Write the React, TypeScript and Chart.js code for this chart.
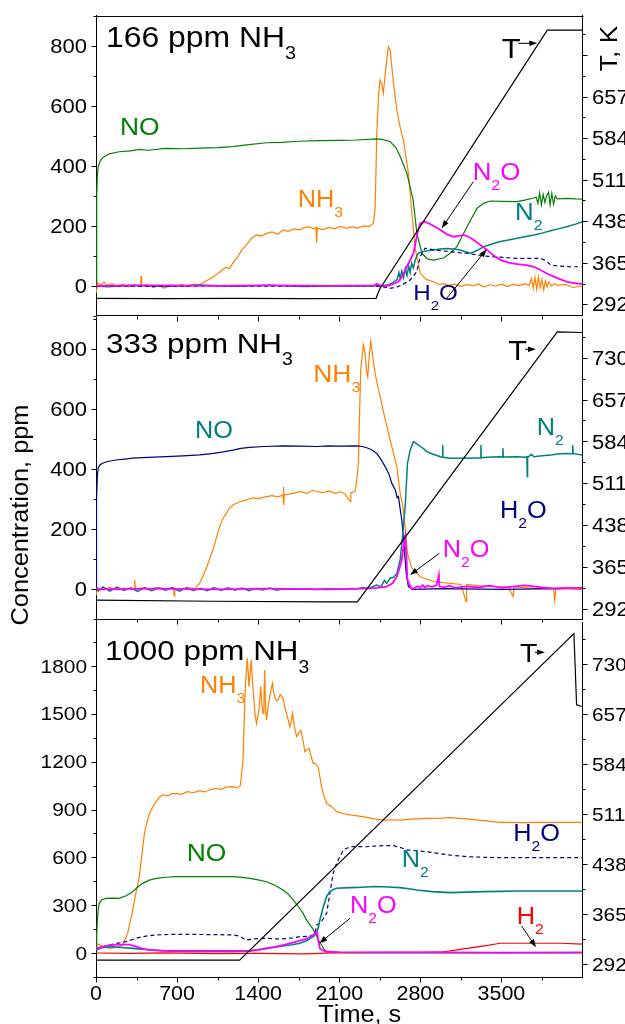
import { useEffect, useRef } from 'react';
import { Chart, registerables } from 'chart.js';
Chart.register(...registerables);

const W = 625;
const H = 1024;
const FONT = '"Liberation Sans", Arial, sans-serif';
const SX = 1.1;

const GREEN = '#008000';
const ORANGE = '#FF8000';
const MAGENTA = '#FF00FF';
const TEAL = '#008080';
const NAVY = '#000080';
const RED = '#FF0000';
const BLACK = '#000000';

// ---------- tick labels ----------
const X_TICKS = [0, 700, 1400, 2100, 2800, 3500];
const Y_TICKS_12 = [0, 200, 400, 600, 800];
const Y_TICKS_3 = [0, 300, 600, 900, 1200, 1500, 1800];
const T_TICKS = [292, 365, 438, 511, 584, 657, 730];
const T_TICKS_P1 = [292, 365, 438, 511, 584, 657];

// ---------- panel 1: 166 ppm NH3 ----------
const p1NO = [[0,0],[6,300],[12,370],[19,397],[35,415],[60,428],[115,440],[200,447],[300,450],[374,455],[450,452],[600,458],[750,457],[894,459],[1050,461],[1180,464],[1300,470],[1474,477],[1600,478],[1750,482],[1933,484],[2100,485],[2250,486],[2418,490],[2470,488],[2539,481],[2590,460],[2626,431],[2684,375],[2738,286],[2770,176],[2813,109],[2860,90],[2914,86],[3000,93],[3060,110],[3116,131],[3203,197],[3290,259],[3350,276],[3405,283],[3500,282],[3636,281],[3700,286],[3777,293],[3800,296],[3815,275],[3830,310],[3845,270],[3860,305],[3875,278],[3890,300],[3907,312],[3920,270],[3935,308],[3950,272],[3965,300],[3982,290],[4069,292],[4140,290],[4200,289]];
const p1NH3 = [[0,-25],[15,10],[40,4],[70,12],[100,2],[140,8],[180,-1],[230,6],[280,-3],[330,4],[385,2],[389,33],[394,0],[440,5],[490,-4],[540,3],[590,-8],[640,4],[690,0],[740,5],[790,-3],[840,6],[894,4],[940,15],[990,25],[1039,37],[1080,50],[1120,62],[1150,58],[1182,76],[1220,95],[1260,120],[1298,137],[1340,158],[1385,170],[1430,166],[1471,175],[1520,180],[1570,172],[1615,187],[1660,182],[1710,190],[1760,187],[1800,195],[1846,197],[1880,190],[1900,196],[1904,143],[1910,192],[1960,188],[2010,195],[2060,190],[2110,198],[2160,192],[2210,197],[2260,193],[2310,200],[2360,198],[2395,209],[2410,260],[2424,509],[2440,640],[2452,686],[2467,672],[2481,642],[2495,700],[2510,753],[2524,797],[2539,786],[2568,676],[2597,586],[2625,530],[2654,486],[2697,376],[2727,243],[2755,126],[2799,43],[2850,22],[2914,14],[2960,5],[3000,8],[3050,2],[3100,6],[3150,-2],[3200,5],[3250,0],[3300,7],[3350,-3],[3400,4],[3450,0],[3500,6],[3550,-2],[3600,5],[3650,1],[3700,8],[3740,2],[3760,25],[3775,-8],[3790,28],[3805,-12],[3820,30],[3835,-6],[3850,22],[3865,-13],[3880,18],[3895,-4],[3910,14],[3930,0],[3960,8],[3982,2],[4050,5],[4120,-5],[4200,0]];
const p1N2O = [[0,0],[500,2],[1000,0],[1500,2],[2000,0],[2400,2],[2424,7],[2450,2],[2510,0],[2560,5],[2610,15],[2650,35],[2684,64],[2741,109],[2775,176],[2799,209],[2842,214],[2900,203],[2972,187],[3030,172],[3086,164],[3130,167],[3174,170],[3220,163],[3260,153],[3320,136],[3376,120],[3430,102],[3491,87],[3560,78],[3636,73],[3700,70],[3780,64],[3838,53],[3900,40],[3953,31],[4010,22],[4069,14],[4140,9],[4200,6]];
const p1N2 = [[0,0],[100,-3],[300,2],[600,-2],[900,3],[1200,-1],[1500,2],[1800,-2],[2100,1],[2400,0],[2510,2],[2560,10],[2600,22],[2615,45],[2626,25],[2640,50],[2655,28],[2670,58],[2685,35],[2700,65],[2712,45],[2725,75],[2740,60],[2755,85],[2770,100],[2784,109],[2813,114],[2860,117],[2914,120],[2970,123],[3030,125],[3090,123],[3145,120],[3190,114],[3232,109],[3290,118],[3347,131],[3420,140],[3491,148],[3560,153],[3636,159],[3700,164],[3780,170],[3850,176],[3925,184],[4000,191],[4069,198],[4140,206],[4200,214]];
const p1H2O = [[0,0],[500,-2],[1000,0],[1500,-1],[2000,0],[2400,0],[2481,-3],[2539,-8],[2600,-3],[2650,5],[2712,20],[2770,48],[2799,98],[2842,126],[2914,120],[2990,117],[3058,114],[3130,111],[3203,109],[3280,104],[3347,100],[3420,98],[3491,96],[3560,94],[3636,92],[3740,92],[3838,92],[3880,85],[3925,70],[4000,66],[4100,64],[4200,64]];
const p1T = [[0,302.5],[600,302],[1200,302.5],[1800,302],[2418,302.5],[2447,318],[3896,774],[4200,774]];

// ---------- panel 2: 333 ppm NH3 ----------
const p2NO = [[0,0],[3,150],[6,300],[12,380],[20,405],[35,415],[57,420],[100,426],[173,431],[250,434],[317,437],[450,440],[606,442],[750,445],[894,448],[1000,452],[1100,458],[1182,464],[1250,470],[1327,473],[1450,476],[1615,478],[1760,477],[1904,476],[2000,478],[2100,477],[2251,478],[2300,476],[2337,472],[2380,465],[2424,453],[2460,433],[2496,409],[2530,383],[2554,353],[2585,330],[2600,305],[2611,309],[2625,270],[2640,231],[2660,142],[2678,53],[2697,9],[2741,0],[3000,2],[3500,0],[4000,2],[4200,5]];
const p2NH3 = [[0,-20],[15,5],[60,0],[120,6],[180,-2],[240,4],[300,1],[331,2],[335,30],[340,0],[400,5],[460,-3],[520,6],[600,2],[670,5],[674,-22],[680,3],[740,0],[800,6],[851,2],[894,20],[925,45],[952,70],[980,100],[1009,131],[1040,172],[1067,209],[1095,235],[1125,253],[1150,270],[1182,281],[1240,292],[1298,298],[1350,305],[1400,302],[1471,309],[1520,312],[1570,308],[1615,314],[1618,342],[1622,281],[1625,315],[1680,318],[1730,322],[1760,326],[1820,320],[1870,330],[1904,326],[1960,322],[2010,328],[2060,320],[2110,325],[2150,318],[2195,292],[2200,322],[2236,326],[2250,360],[2265,420],[2285,731],[2308,814],[2323,787],[2335,730],[2346,709],[2360,780],[2372,826],[2389,776],[2405,730],[2424,692],[2481,592],[2539,498],[2597,409],[2626,320],[2649,276],[2669,209],[2689,120],[2727,70],[2799,42],[2914,26],[3058,20],[3150,16],[3195,-41],[3200,16],[3300,12],[3400,10],[3491,9],[3560,8],[3600,-24],[3610,8],[3780,3],[3950,2],[3960,-36],[3970,2],[4200,0]];
const p2N2 = [[0,5],[20,-5],[60,8],[120,-6],[180,7],[240,-4],[300,5],[360,-7],[420,6],[480,-5],[540,4],[600,-3],[660,6],[720,-6],[780,5],[840,-4],[900,3],[960,-5],[1020,6],[1080,-4],[1140,5],[1200,-3],[1260,4],[1320,-5],[1380,3],[1440,-2],[1500,4],[1560,-3],[1620,2],[1700,0],[1800,2],[1900,-1],[2000,2],[2100,0],[2200,3],[2251,2],[2300,6],[2350,3],[2424,14],[2460,8],[2490,30],[2510,20],[2540,38],[2570,40],[2597,53],[2626,98],[2649,187],[2669,276],[2689,420],[2712,464],[2741,492],[2770,485],[2799,476],[2830,468],[2857,459],[2900,452],[2972,442],[2990,440],[2993,481],[2996,440],[3058,437],[3130,437],[3203,437],[3280,438],[3320,438],[3323,481],[3326,438],[3347,439],[3420,441],[3491,442],[3510,440],[3513,470],[3516,441],[3636,442],[3700,440],[3720,442],[3723,376],[3726,440],[3760,450],[3780,442],[3850,445],[3925,448],[4000,452],[4069,453],[4110,452],[4115,481],[4120,452],[4200,448]];
const p2N2O = [[0,0],[500,2],[1000,0],[1500,2],[2000,0],[2300,2],[2424,5],[2510,9],[2560,20],[2597,42],[2620,70],[2640,98],[2660,164],[2670,180],[2678,120],[2689,31],[2727,0],[2780,10],[2800,5],[2820,14],[2840,6],[2860,12],[2900,8],[2940,13],[2960,48],[2965,10],[3000,6],[3050,12],[3100,5],[3200,10],[3300,6],[3400,12],[3500,5],[3600,9],[3700,13],[3780,10],[3850,6],[3950,3],[4050,5],[4200,2]];
const p2T = [[0,307],[1000,305],[2000,304],[2256,304],[3982,775],[4200,774]];

// ---------- panel 3: 1000 ppm NH3 ----------
const p3NH3 = [[0,63],[40,50],[80,38],[115,31],[170,35],[230,52],[273,125],[317,271],[345,380],[374,480],[418,751],[440,820],[461,876],[490,915],[519,949],[545,975],[576,991],[620,985],[650,998],[692,1001],[740,995],[790,1012],[840,1005],[894,1018],[940,1010],[990,1025],[1039,1033],[1080,1025],[1120,1040],[1182,1043],[1220,1035],[1246,1049],[1269,1210],[1289,1669],[1307,1846],[1321,1669],[1330,1750],[1341,1836],[1351,1700],[1361,1606],[1373,1500],[1385,1439],[1396,1480],[1407,1523],[1415,1600],[1422,1669],[1432,1560],[1442,1502],[1450,1600],[1456,1773],[1463,1550],[1471,1460],[1485,1540],[1500,1606],[1512,1650],[1523,1690],[1533,1640],[1543,1606],[1557,1580],[1572,1585],[1590,1620],[1615,1596],[1630,1540],[1644,1502],[1660,1460],[1673,1418],[1685,1450],[1696,1502],[1712,1420],[1731,1356],[1750,1380],[1768,1397],[1788,1330],[1803,1262],[1817,1273],[1840,1283],[1858,1230],[1875,1189],[1890,1189],[1918,1168],[1947,1043],[1970,980],[1991,939],[2034,918],[2077,887],[2130,875],[2193,866],[2260,860],[2337,851],[2400,842],[2481,834],[2550,836],[2626,834],[2700,838],[2770,841],[2850,844],[2914,845],[2990,846],[3058,849],[3130,845],[3203,841],[3280,835],[3347,830],[3420,824],[3491,820],[3600,820],[3700,818],[3780,820],[3900,819],[4069,820],[4200,820]];
const p3NO = [[0,21],[6,120],[12,209],[20,280],[28,313],[50,335],[86,344],[140,346],[201,344],[260,360],[317,386],[360,415],[403,438],[460,458],[519,469],[600,476],[692,480],[800,481],[900,480],[1000,481],[1100,480],[1182,480],[1260,475],[1327,469],[1400,460],[1471,448],[1540,428],[1615,396],[1660,370],[1702,334],[1750,290],[1788,250],[1817,209],[1846,180],[1875,150],[1904,110],[1918,85],[1947,52],[1970,25],[1991,10],[2050,5],[2200,3],[2600,3],[3000,2],[3500,2],[4200,2]];
const p3H2O = [[0,31],[60,40],[115,52],[180,62],[259,73],[320,88],[374,100],[450,110],[519,115],[620,118],[750,119],[900,118],[1050,117],[1182,115],[1240,108],[1298,83],[1380,92],[1471,94],[1540,91],[1615,90],[1700,97],[1760,104],[1830,107],[1875,112],[1895,140],[1904,177],[1925,185],[1947,200],[1970,225],[1991,250],[2020,380],[2048,501],[2070,550],[2091,584],[2135,647],[2193,667],[2260,668],[2337,667],[2400,671],[2481,674],[2568,674],[2630,662],[2684,647],[2770,642],[2857,636],[2960,625],[3058,615],[3130,610],[3203,605],[3350,601],[3491,599],[3700,599],[3900,599],[4200,599]];
const p3N2 = [[0,21],[50,35],[115,42],[200,38],[317,31],[450,22],[606,15],[800,12],[1000,10],[1182,10],[1327,14],[1400,22],[1471,31],[1545,38],[1615,46],[1690,54],[1760,63],[1817,79],[1875,104],[1904,125],[1918,160],[1933,209],[1962,292],[1991,355],[2019,386],[2050,400],[2077,407],[2193,411],[2300,414],[2400,418],[2481,417],[2560,414],[2626,411],[2700,404],[2770,396],[2900,386],[3058,380],[3200,383],[3347,386],[3500,388],[3636,390],[3900,390],[4200,390]];
const p3N2O = [[0,31],[60,42],[115,52],[200,55],[288,55],[350,42],[400,30],[461,21],[600,16],[894,15],[1100,15],[1327,17],[1400,22],[1471,31],[1545,40],[1615,52],[1690,66],[1760,80],[1817,90],[1875,115],[1904,136],[1912,120],[1918,83],[1933,31],[1960,18],[1991,10],[2100,7],[2500,6],[3000,6],[3500,5],[4200,6]];
const p3H2 = [[0,2],[300,0],[600,3],[1000,-2],[1400,0],[1800,-3],[1933,0],[2100,5],[2500,6],[2800,6],[3000,10],[3058,15],[3203,31],[3350,47],[3491,63],[3700,63],[4011,63],[4200,58]];
const p3T = [[0,298],[600,298],[1240,298],[4126,775],[4149,671],[4200,668]];

type Txt = { s: string; x: number; y: number; size: number; color: string; rot?: boolean };
type Arr = [number, number, number, number];

const ds = (data: number[][], color: string, axis: string, width = 1.2, dash: number[] = []) => ({ data, color, axis, width, dash });

const PANELS = [
  {
    top: 15.7, bottom: 316, yMin: -100, yMax: 900, tMin: 271.4, tMax: 799.4,
    yTicks: Y_TICKS_12, yMinor: 100, tTicks: T_TICKS_P1, topBorder: true, xLabels: false, tickSize: 20,
    series: [ds(p1T, BLACK, 't'), ds(p1N2O, MAGENTA, 'y', 1.8), ds(p1H2O, NAVY, 'y', 1.2, [4, 3]), ds(p1N2, TEAL, 'y', 1.5), ds(p1NO, GREEN, 'y'), ds(p1NH3, ORANGE, 'y')],
    texts: [
      { s: '166 ppm NH_3', x: 106, y: 46.7, size: 29, color: BLACK },
      { s: 'NO', x: 120, y: 135, size: 24, color: GREEN },
      { s: 'NH_3', x: 297.7, y: 207, size: 23, color: ORANGE },
      { s: 'N_2O', x: 472.7, y: 180, size: 23.5, color: MAGENTA },
      { s: 'N_2', x: 515, y: 220, size: 23.5, color: TEAL },
      { s: 'H_2O', x: 413.3, y: 300, size: 22, color: NAVY },
      { s: 'T', x: 501.7, y: 58.3, size: 28, color: BLACK },
      { s: 'T, K', x: 608, y: 48.5, size: 24, color: BLACK, rot: true },
    ] as Txt[],
    arrows: [[473.3, 181.7, 441.7, 228.3], [446.7, 298.3, 486.7, 249.3], [518.3, 43.3, 537.3, 43.3]] as Arr[],
  },
  {
    top: 319.3, bottom: 619.3, yMin: -100, yMax: 900, tMin: 273.5, tMax: 797,
    yTicks: Y_TICKS_12, yMinor: 100, tTicks: T_TICKS, topBorder: false, xLabels: false, tickSize: 20,
    series: [ds(p2T, BLACK, 't'), ds(p2N2O, MAGENTA, 'y', 1.8), ds(p2N2, TEAL, 'y', 1.5), ds(p2NO, NAVY, 'y'), ds(p2NH3, ORANGE, 'y')],
    texts: [
      { s: '333 ppm NH_3', x: 106, y: 352.7, size: 28.5, color: BLACK },
      { s: 'NO', x: 195, y: 438.3, size: 23, color: TEAL },
      { s: 'NH_3', x: 313.3, y: 381.7, size: 24, color: ORANGE },
      { s: 'N_2', x: 536.7, y: 435, size: 23, color: TEAL },
      { s: 'H_2O', x: 500, y: 518.3, size: 23, color: NAVY },
      { s: 'N_2O', x: 442.7, y: 556.7, size: 23, color: MAGENTA },
      { s: 'T', x: 508.3, y: 360, size: 28, color: BLACK },
      { s: 'Concentration, ppm', x: 20, y: 515, size: 23, color: BLACK, rot: true },
    ] as Txt[],
    arrows: [[439.3, 553.3, 410, 575], [525, 349.3, 536, 349.3]] as Arr[],
  },
  {
    top: 622, bottom: 977.3, yMin: -150, yMax: 2073.6, tMin: 273, tMax: 791.8,
    yTicks: Y_TICKS_3, yMinor: 150, tTicks: T_TICKS, topBorder: false, xLabels: true, tickSize: 19,
    series: [ds(p3T, BLACK, 't'), ds(p3N2O, MAGENTA, 'y', 1.8), ds(p3H2, RED, 'y'), ds(p3N2, TEAL, 'y', 1.6), ds(p3H2O, NAVY, 'y', 1.2, [4, 3]), ds(p3NO, GREEN, 'y'), ds(p3NH3, ORANGE, 'y')],
    texts: [
      { s: '1000 ppm NH_3', x: 105, y: 660, size: 28.5, color: BLACK },
      { s: 'NH_3', x: 200, y: 692.7, size: 23, color: ORANGE },
      { s: 'NO', x: 186.7, y: 860.7, size: 24, color: GREEN },
      { s: 'T', x: 520, y: 661.7, size: 26, color: BLACK },
      { s: 'H_2O', x: 513.3, y: 840.7, size: 23, color: NAVY },
      { s: 'N_2', x: 401.7, y: 867.3, size: 23, color: TEAL },
      { s: 'N_2O', x: 350, y: 913.3, size: 23, color: MAGENTA },
      { s: 'H_2', x: 516.7, y: 924, size: 23, color: RED },
      { s: 'Time, s', x: 318.3, y: 1021.7, size: 23, color: BLACK },
    ] as Txt[],
    arrows: [[535, 652.3, 545, 652.3], [350, 918.3, 319.3, 943.3], [521.7, 926, 536, 947.3]] as Arr[],
  },
];

type PanelCfg = typeof PANELS[number];

function drawRich(ctx: CanvasRenderingContext2D, t: Txt) {
  ctx.save();
  ctx.fillStyle = t.color;
  ctx.textBaseline = 'alphabetic';
  if (t.rot) {
    ctx.translate(t.x, t.y);
    ctx.rotate(-Math.PI / 2);
    ctx.scale(SX, 1);
    ctx.font = `${t.size}px ${FONT}`;
    ctx.textAlign = 'center';
    ctx.fillText(t.s, 0, t.size * 0.36);
    ctx.restore();
    return;
  }
  ctx.translate(t.x, t.y);
  ctx.scale(SX, 1);
  ctx.textAlign = 'left';
  let cx = 0;
  for (let i = 0; i < t.s.length; i++) {
    let ch = t.s[i];
    let sub = false;
    if (ch === '_') { sub = true; i++; ch = t.s[i]; }
    const fs = sub ? t.size * 0.62 : t.size;
    ctx.font = `${fs}px ${FONT}`;
    ctx.fillText(ch, cx, sub ? t.size * 0.44 : 0);
    cx += ctx.measureText(ch).width;
  }
  ctx.restore();
}

function drawArrow(ctx: CanvasRenderingContext2D, a: Arr) {
  const [x1, y1, x2, y2] = a;
  const ang = Math.atan2(y2 - y1, x2 - x1);
  const L = 8, Wd = 2.8;
  ctx.save();
  ctx.strokeStyle = BLACK;
  ctx.fillStyle = BLACK;
  ctx.lineWidth = 1;
  ctx.beginPath();
  ctx.moveTo(x1, y1);
  ctx.lineTo(x2 - Math.cos(ang) * L * 0.8, y2 - Math.sin(ang) * L * 0.8);
  ctx.stroke();
  ctx.beginPath();
  ctx.moveTo(x2, y2);
  ctx.lineTo(x2 - Math.cos(ang) * L - Math.sin(ang) * Wd, y2 - Math.sin(ang) * L + Math.cos(ang) * Wd);
  ctx.lineTo(x2 - Math.cos(ang) * L + Math.sin(ang) * Wd, y2 - Math.sin(ang) * L - Math.cos(ang) * Wd);
  ctx.closePath();
  ctx.fill();
  ctx.restore();
}

function label(ctx: CanvasRenderingContext2D, s: string, x: number, y: number, size: number, align: CanvasTextAlign) {
  ctx.save();
  ctx.translate(x, y);
  ctx.scale(SX, 1);
  ctx.font = `${size}px ${FONT}`;
  ctx.fillStyle = BLACK;
  ctx.textAlign = align;
  ctx.textBaseline = 'alphabetic';
  ctx.fillText(s, 0, 0);
  ctx.restore();
}

function makeOverlay(p: PanelCfg) {
  return {
    id: 'overlay',
    afterDraw(chart: any) {
      const ctx: CanvasRenderingContext2D = chart.ctx;
      const { left, right, top, bottom } = chart.chartArea;
      const xs = chart.scales.x, ys = chart.scales.y, ts = chart.scales.t;
      const L = Math.round(left) + 0.5, R = Math.round(right) - 0.5, B = Math.round(bottom) + 0.5;
      ctx.save();
      ctx.strokeStyle = BLACK;
      ctx.lineWidth = 1;
      ctx.beginPath();
      if (p.topBorder) {
        const T = Math.round(top) + 0.5;
        ctx.moveTo(L, T); ctx.lineTo(R + 1, T);
      }
      // x ticks
      for (let v = 0; v < 4200; v += 350) {
        const px = Math.round(xs.getPixelForValue(v)) + 0.5;
        const len = v % 700 === 0 ? 5 : 3;
        ctx.moveTo(px, B); ctx.lineTo(px, B + len);
      }
      // left ticks
      const yStep = p.yMinor;
      for (let v = Math.ceil(p.yMin / yStep) * yStep; v <= p.yMax; v += yStep) {
        const py = Math.round(ys.getPixelForValue(v)) + 0.5;
        const len = p.yTicks.includes(v) ? 5 : 3;
        ctx.moveTo(L, py); ctx.lineTo(L - len, py);
      }
      // right ticks
      for (let k = -1; k < 16; k++) {
        const v = 292 + k * 36.5;
        if (v < p.tMin || v > p.tMax) continue;
        const py = Math.round(ts.getPixelForValue(v)) + 0.5;
        const len = k % 2 === 0 ? 5 : 3;
        ctx.moveTo(R, py); ctx.lineTo(R + len, py);
      }
      ctx.stroke();
      ctx.restore();

      const fs = p.tickSize;
      for (const v of p.yTicks) {
        label(ctx, String(v), left - 9, ys.getPixelForValue(v) + fs * 0.358, fs, 'right');
      }
      for (const v of p.tTicks) {
        label(ctx, String(v), right + 9.5, ts.getPixelForValue(v) + fs * 0.358, fs, 'left');
      }
      if (p.xLabels) {
        for (const v of X_TICKS) {
          label(ctx, String(v), xs.getPixelForValue(v), 1000, 19.5, 'center');
        }
      }
      for (const t of p.texts) drawRich(ctx, t);
      for (const a of p.arrows) drawArrow(ctx, a);
    },
  };
}

function buildConfig(p: PanelCfg): any {
  const axisCommon = {
    type: 'linear',
    grid: { display: false },
    border: { display: true, color: BLACK, width: 1 },
    ticks: { display: false },
  };
  return {
    type: 'line',
    data: {
      datasets: p.series.map((s) => ({
        data: s.data.map(([x, y]) => ({ x, y })),
        borderColor: s.color,
        borderWidth: s.width,
        borderDash: s.dash,
        yAxisID: s.axis,
        pointRadius: 0,
        fill: false,
        tension: 0,
      })),
    },
    options: {
      responsive: false,
      maintainAspectRatio: false,
      animation: false,
      events: [],
      layout: { padding: { left: 0, right: 0, top: p.top, bottom: H - p.bottom } },
      plugins: { legend: { display: false }, tooltip: { enabled: false } },
      scales: {
        x: { ...axisCommon, position: 'bottom', min: 0, max: 4200, afterFit: (s: any) => { s.height = 0; } },
        y: { ...axisCommon, position: 'left', min: p.yMin, max: p.yMax, afterFit: (s: any) => { s.width = 96; } },
        t: { ...axisCommon, position: 'right', min: p.tMin, max: p.tMax, afterFit: (s: any) => { s.width = 42.5; } },
      },
    },
    plugins: [makeOverlay(p)],
  };
}

function Panel({ cfg }: { cfg: PanelCfg }) {
  const ref = useRef<HTMLCanvasElement>(null);
  useEffect(() => {
    const chart = new Chart(ref.current as HTMLCanvasElement, buildConfig(cfg));
    return () => chart.destroy();
  }, [cfg]);
  return <canvas ref={ref} width={W} height={H} style={{ position: 'absolute', left: 0, top: 0 }} />;
}

export default function App() {
  return (
    <div style={{ position: 'absolute', left: 0, top: 0, width: W, height: H, background: '#fff', overflow: 'hidden' }}>
      {PANELS.map((p, i) => <Panel key={i} cfg={p} />)}
    </div>
  );
}
